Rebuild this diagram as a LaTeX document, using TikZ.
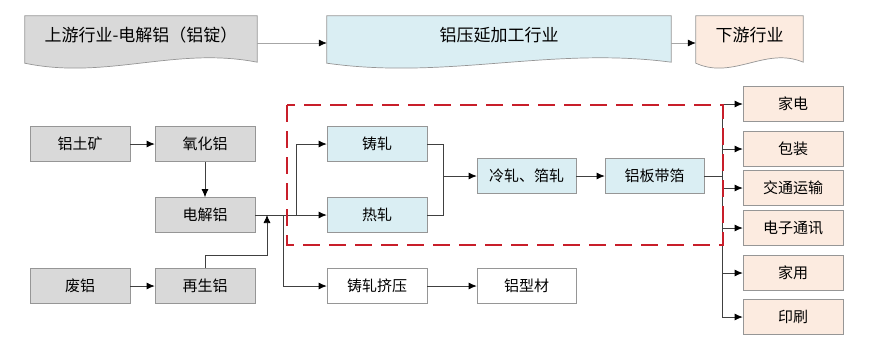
\documentclass[tikz,border=0pt]{standalone}
\usepackage{fontspec}
\setmainfont{Noto Sans CJK SC}
\usetikzlibrary{arrows.meta,calc,backgrounds}
\definecolor{boxgray}{RGB}{217,217,217}
\definecolor{boxblue}{RGB}{218,238,243}
\definecolor{boxpeach}{RGB}{252,235,224}
\definecolor{edgegray}{RGB}{150,150,150}
\definecolor{zonered}{RGB}{200,30,42}

% wavy bottom behind a banner node: #1 node name, #2 fill colour
\newcommand{\wavebanner}[2]{%
  \begin{scope}[on background layer]
    \filldraw[fill=#2, draw=edgegray, line width=0.7pt]
      (#1.north west) -- (#1.north east) -- ($(#1.south east)+(0,-8)$)
      .. controls ($(#1.south east)!0.35!(#1.south west)+(0,-24)$)
      and ($(#1.south west)!0.35!(#1.south east)+(0,10)$)
      .. ($(#1.south west)+(0,-7)$) -- cycle;
  \end{scope}}

\begin{document}
\begin{tikzpicture}[x=1pt, y=-1pt,
    box/.style={draw=edgegray, line width=0.7pt, minimum width=100pt, minimum height=35pt,
      inner sep=0pt, font=\fontsize{15pt}{18pt}\selectfont},
    graybox/.style={box, fill=boxgray},
    bluebox/.style={box, fill=boxblue},
    peachbox/.style={box, fill=boxpeach},
    whitebox/.style={box, fill=white},
    banner/.style={inner sep=0pt, text height=25.5pt, text depth=28.5pt,
      font=\fontsize{17pt}{20pt}\selectfont},
    arr/.style={-{Latex[length=8pt,width=7pt,black]}, black!75, line width=0.7pt},
    toparr/.style={arr, black!35},
    link/.style={black!75, line width=0.7pt},
    zone/.style={zonered, line width=2.6pt, dash pattern=on 17pt off 9pt}]
    \useasboundingbox (0,0) rectangle (886,354);

    % Top banners
    \node[banner, minimum width=232pt] (upstream) at (141,43) {上游行业-电解铝（铝锭）};
    \node[banner, minimum width=344pt] (midstream) at (499,43) {铝压延加工行业};
    \node[banner, minimum width=107pt] (downstream) at (749.5,43) {下游行业};
    \wavebanner{upstream}{boxgray}
    \wavebanner{midstream}{boxblue}
    \wavebanner{downstream}{boxpeach}
    \draw[toparr] (upstream) -- (midstream);
    \draw[toparr] (midstream) -- (downstream);

    % Raw material side
    \node[graybox] (bauxite) at (80,144) {铝土矿};
    \node[graybox] (alumina) at (205,144) {氧化铝};
    \node[graybox] (electro) at (205,215) {电解铝};
    \node[graybox] (scrap) at (80,286) {废铝};
    \node[graybox] (recycled) at (205,286) {再生铝};

    % Rolling
    \node[bluebox] (cast) at (377,144) {铸轧};
    \node[bluebox] (hot) at (377,215) {热轧};
    \node[bluebox, minimum width=99pt] (cold) at (526.5,176) {冷轧、箔轧};
    \node[bluebox, minimum width=99pt] (sheet) at (654.5,176) {铝板带箔};

    % Extrusion
    \node[whitebox] (extrude) at (377,286) {铸轧挤压};
    \node[whitebox, minimum width=99pt] (profile) at (526.5,286) {铝型材};

    % Downstream uses
    \foreach \name/\y/\txt in {appliance/104/家电, package/149/包装, traffic/188/交通运输,
        telecom/228/电子通讯, household/273/家用, printing/317/印刷} {
        \node[peachbox] (\name) at (793,\y) {\txt};
    }

    % Connectors
    \coordinate (feed) at (267,215);
    \coordinate (down) at (283,215);
    \coordinate (split) at (296,215);
    \coordinate (merge) at (443,176);
    \coordinate (bus) at (722,176);
    \draw[arr] (bauxite) -- (alumina);
    \draw[arr] (alumina) -- (electro);
    \draw[arr] (scrap) -- (recycled);
    \draw[arr] (electro) -- (hot);
    \draw[arr] (recycled.north) -- ++(0,-13) -| (feed);
    \draw[arr] (split) |- (cast);
    \draw[arr] (down) |- (extrude);
    \draw[link] (cast) -| (merge);
    \draw[link] (hot) -| (merge);
    \draw[arr] (merge) -- (cold);
    \draw[arr] (cold) -- (sheet);
    \draw[link] (sheet) -- (bus);
    \draw[link] (bus |- appliance) -- (bus |- printing);
    \foreach \name in {appliance, package, traffic, telecom, household, printing} {
        \draw[arr] (bus |- \name) -- (\name);
    }
    \draw[arr] (extrude) -- (profile);

    % Rolling zone
    \draw[zone] (287,105) rectangle (723,245);
\end{tikzpicture}
\end{document}
